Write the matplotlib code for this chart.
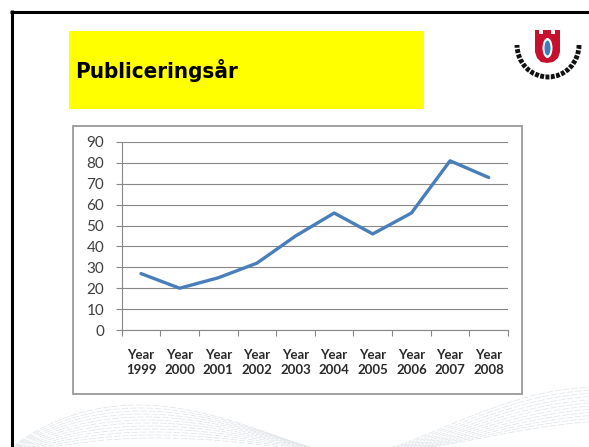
import numpy as np
import matplotlib
matplotlib.use("Agg")
import matplotlib.pyplot as plt
from matplotlib.patches import Rectangle, Polygon, Ellipse, Arc

# ---- data ----
years = ["1999", "2000", "2001", "2002", "2003", "2004", "2005", "2006", "2007", "2008"]
tick_labels = ["Year\n" + y for y in years]
values = [27, 20, 25, 32, 45, 56, 46, 56, 81, 73]
y_ticks = [0, 10, 20, 30, 40, 50, 60, 70, 80, 90]
title = "Publiceringsår"

W, H = 589, 447
fig = plt.figure(figsize=(W / 100, H / 100), dpi=100)
fig.patch.set_facecolor("white")

# ---- background / decoration layer in pixel coords ----
bg = fig.add_axes([0, 0, 1, 1], zorder=0)
bg.set_xlim(0, W)
bg.set_ylim(H, 0)
bg.axis("off")

# faint wave pattern at the bottom
t = np.linspace(0, 1, 200)
for k in range(12):
    xs = 12 + t * (300 + k * 4)
    ys = 449 - (44 - k * 2.2) * np.sin(np.pi * t ** 0.8) + k * 0.8
    bg.plot(xs, ys, color="#e3e7eb", lw=0.6, ls=(0, (8, 2)))
for k in range(12):
    xs = 385 + k * 3 + t * 215
    ys = 449 - (62 - k * 3) * np.sin(0.5 * np.pi * t) ** 1.2
    bg.plot(xs, ys, color="#e3e7eb", lw=0.6, ls=(0, (8, 2)))

# black frame (top + left)
bg.plot([10, W], [11.5, 11.5], color="black", lw=2.2, solid_capstyle="butt")
bg.plot([11.5, 11.5], [10, H], color="black", lw=2.2, solid_capstyle="butt")

# yellow title box
bg.add_patch(Rectangle((69, 31), 355, 78, facecolor="#ffff00", edgecolor="none"))
bg.text(75, 70, title, fontsize=16, fontweight="bold", fontstretch="condensed",
        family=["DejaVu Sans"], color="black", ha="left", va="center")

# chart frame
bg.add_patch(Rectangle((73, 126), 449, 268, facecolor="white",
                       edgecolor="#9a9a9a", lw=1.3))

# logo: red shield with blue oval, black circular text band
shield = [(535, 30), (539, 30), (539, 34), (543, 34), (543, 30), (551, 30),
          (551, 34), (555, 34), (555, 30), (560, 30), (560, 52),
          (558, 58), (553, 62), (547, 63), (541, 62), (537, 58), (535, 52)]
bg.add_patch(Polygon(shield, closed=True, facecolor="#c8102e", edgecolor="none"))
bg.add_patch(Ellipse((547.5, 48), 10, 20, facecolor="white", edgecolor="none"))
bg.add_patch(Ellipse((547.5, 48), 6, 15, facecolor="#3c7fc0", edgecolor="none"))
bg.add_patch(Arc((548, 45), 62, 64, theta1=0, theta2=180, color="#111111",
                 lw=3.5, ls=(0, (0.8, 0.3))))

# ---- chart ----
ax = fig.add_axes([121.7 / W, (H - 330) / H, (508 - 121.7) / W, (330 - 142) / H],
                  zorder=2)
ax.patch.set_alpha(0)
x = np.arange(len(values))
ax.plot(x, values, color="#4a7ebb", lw=2.4, solid_joinstyle="round",
        solid_capstyle="round", zorder=3)

ax.set_xlim(-0.5, len(values) - 0.5)
ax.set_ylim(0, 90)
ax.set_yticks(y_ticks)
ax.set_yticklabels([str(v) for v in y_ticks])
ax.yaxis.grid(True, color="#888888", lw=0.8)
ax.set_axisbelow(True)

ax.set_xticks(x)
ax.set_xticklabels(tick_labels, linespacing=1.3)
ax.set_xticks(np.arange(-0.5, len(values)), minor=True)
ax.tick_params(axis="x", which="major", length=0, pad=14)
ax.tick_params(axis="x", which="minor", length=4, color="#888888", width=0.8)
ax.tick_params(axis="y", length=4.5, color="#888888", width=0.8, pad=8)

for lab in ax.get_yticklabels():
    lab.set_family(["Lato", "DejaVu Sans"])
    lab.set_fontsize(11)
    lab.set_color("#404040")
for lab in ax.get_xticklabels():
    lab.set_family(["Lato", "DejaVu Sans"])
    lab.set_fontsize(9.5)
    lab.set_fontweight("bold")
    lab.set_color("#2a2a2a")

for s in ["top", "right"]:
    ax.spines[s].set_visible(False)
for s in ["left", "bottom"]:
    ax.spines[s].set_color("#888888")
    ax.spines[s].set_linewidth(0.8)

fig.savefig("out.png", dpi=100, facecolor="white")
